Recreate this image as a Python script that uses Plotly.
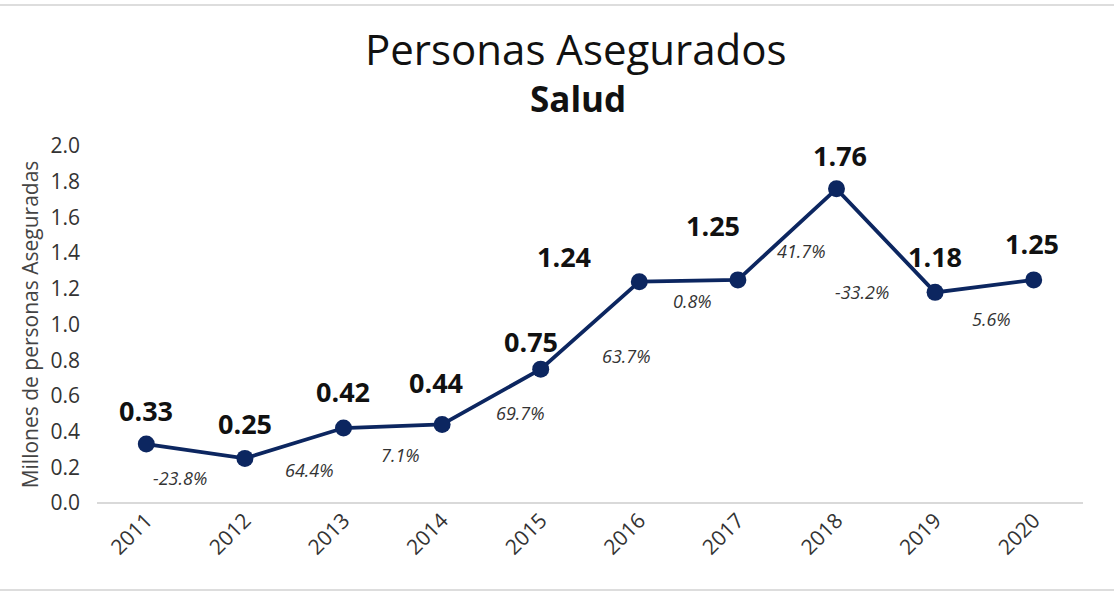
import plotly.graph_objects as go

years = ["2011", "2012", "2013", "2014", "2015", "2016", "2017", "2018", "2019", "2020"]
asegurados = [0.33, 0.25, 0.42, 0.44, 0.75, 1.24, 1.25, 1.76, 1.18, 1.25]
value_labels = ["0.33", "0.25", "0.42", "0.44", "0.75", "1.24", "1.25", "1.76", "1.18", "1.25"]
# growth vs previous year, attached to the ending year (2012..2020)
growth_years = ["2012", "2013", "2014", "2015", "2016", "2017", "2018", "2019", "2020"]
growth_labels = ["-23.8%", "64.4%", "7.1%", "69.7%", "63.7%", "0.8%", "41.7%", "-33.2%", "5.6%"]
y_ticks = [0.0, 0.2, 0.4, 0.6, 0.8, 1.0, 1.2, 1.4, 1.6, 1.8, 2.0]

# label placement offsets (pixels), as in the original layout
val_dx = [0, 0, -1, -6, -10, -75, -25, 3, 0, -2]
val_dy = [34, 35, 37, 42, 28, 25, 54, 33, 36, 36]
gr_dx = [-65, -34, -42, -20, -13, -45, -35, -73, -42]
gr_dy = [-20, -42, -31, -44, -74, -21, -62, 0, -39]

FONT = "Open Sans"
NAVY = "#0c2660"

W, H = 1114, 592
ML, MR, MT, MB = 97, 31, 146, 89
PH = H - MT - MB

fig = go.Figure()
fig.add_trace(go.Scatter(
    x=years, y=asegurados, mode="lines+markers",
    line=dict(color=NAVY, width=3.8),
    marker=dict(color=NAVY, size=17),
    hoverinfo="x+y", showlegend=False,
))

annotations = []
for i, (v, lab, dx, dy) in enumerate(zip(asegurados, value_labels, val_dx, val_dy)):
    annotations.append(dict(
        x=i, y=v, xref="x", yref="y", text=f"<b>{lab}</b>", showarrow=False,
        xshift=dx, yshift=dy, font=dict(family=FONT, size=27, color="#111111"),
    ))
for yr, lab, dx, dy in zip(growth_years, growth_labels, gr_dx, gr_dy):
    i = years.index(yr)
    annotations.append(dict(
        x=i, y=asegurados[i], xref="x", yref="y", text=f"<i>{lab}</i>", showarrow=False,
        xshift=dx, yshift=dy, font=dict(family=FONT, size=18, color="#333333"),
    ))
# titles
annotations.append(dict(
    x=0.5, y=(H - MB - 48) / PH, xref="paper", yref="paper", xanchor="center", yanchor="middle",
    text="Personas Asegurados", showarrow=False, xshift=-14,
    font=dict(family=FONT, size=42, color="#111111"),
))
annotations.append(dict(
    x=0.5, y=(H - MB - 98) / PH, xref="paper", yref="paper", xanchor="center", yanchor="middle",
    text="<b>Salud</b>", showarrow=False, xshift=-12,
    font=dict(family=FONT, size=35, color="#111111"),
))

fig.update_layout(
    width=W, height=H,
    margin=dict(l=ML, r=MR, t=MT, b=MB),
    paper_bgcolor="white", plot_bgcolor="white",
    font=dict(family=FONT, color="#222222"),
    annotations=annotations,
    xaxis=dict(
        type="category", categoryorder="array", categoryarray=years,
        range=[-0.5, len(years) - 0.5],
        tickangle=-45, showgrid=False, showline=False, zeroline=False,
        tickfont=dict(family=FONT, size=21, color="#333333"), ticks="",
    ),
    yaxis=dict(
        range=[0, 2.0], tickvals=y_ticks, ticktext=[f"{t:.1f}" for t in y_ticks],
        showgrid=False, zeroline=True, zerolinecolor="#d9d9d9", zerolinewidth=1.5,
        showline=False, ticks="", ticklabelstandoff=16,
        tickfont=dict(family=FONT, size=21, color="#333333"),
        title=dict(text="Millones de personas Aseguradas", standoff=6,
                   font=dict(family=FONT, size=21, color="#444444")),
    ),
    shapes=[
        dict(type="line", xref="paper", yref="paper", x0=-0.2, x1=1.2,
             y0=(H - MB - 5) / PH, y1=(H - MB - 5) / PH, line=dict(color="#dddddd", width=2)),
        dict(type="line", xref="paper", yref="paper", x0=-0.2, x1=1.2,
             y0=(H - MB - 590) / PH, y1=(H - MB - 590) / PH, line=dict(color="#dddddd", width=2)),
    ],
)
fig.write_html("out.html", config={"displayModeBar": False},
               post_script="document.body.style.margin='0';")
